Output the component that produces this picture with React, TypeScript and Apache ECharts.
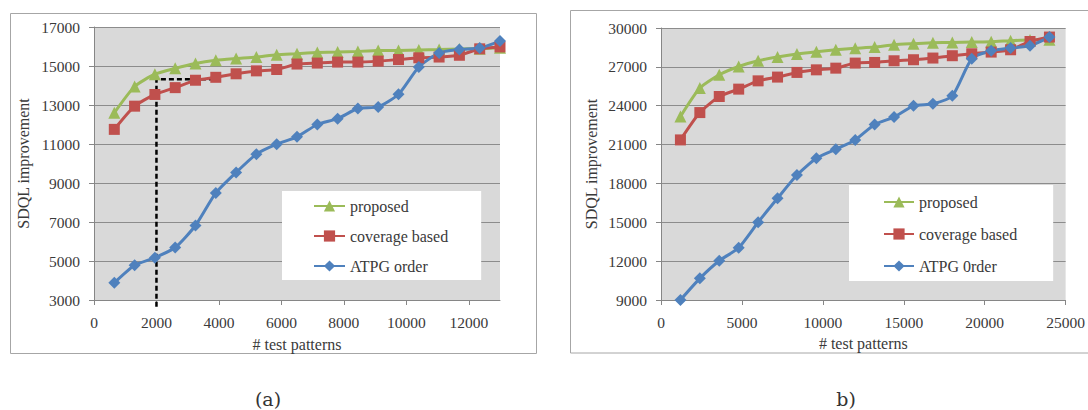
import React, { useEffect, useRef } from "react";
import * as echarts from "echarts";

// ---------- Chart (a) ----------
const xA = [650, 1300, 1950, 2600, 3250, 3900, 4550, 5200, 5850, 6500, 7150, 7800, 8450, 9100, 9750, 10400, 11050, 11700, 12350, 13000];
const proposedA = [12600, 13950, 14580, 14880, 15130, 15290, 15380, 15460, 15580, 15630, 15690, 15720, 15750, 15790, 15800, 15820, 15840, 15870, 15890, 15930];
const coverageA = [11750, 12940, 13540, 13890, 14270, 14420, 14600, 14750, 14820, 15100, 15150, 15200, 15200, 15250, 15330, 15420, 15460, 15550, 15880, 15980];
const atpgA = [3880, 4780, 5170, 5690, 6820, 8490, 9540, 10480, 10990, 11370, 12000, 12300, 12820, 12900, 13550, 14950, 15670, 15840, 15920, 16280];
const guideX = [2000, 2000, 3950];
const guideY = [2650, 14320, 14320];
const xTicksA = [0, 2000, 4000, 6000, 8000, 10000, 12000];
const yTicksA = [3000, 5000, 7000, 9000, 11000, 13000, 15000, 17000];
const legendA = ["proposed", "coverage based", "ATPG order"];

// ---------- Chart (b) ----------
const xB = [1200, 2400, 3600, 4800, 6000, 7200, 8400, 9600, 10800, 12000, 13200, 14400, 15600, 16800, 18000, 19200, 20400, 21600, 22800, 24000];
const proposedB = [23160, 25360, 26390, 27030, 27470, 27760, 27990, 28170, 28320, 28430, 28530, 28710, 28790, 28860, 28890, 28920, 28940, 29020, 29080, 29100];
const coverageB = [21360, 23470, 24710, 25280, 25920, 26210, 26570, 26770, 26900, 27290, 27340, 27470, 27550, 27680, 27860, 28010, 28140, 28320, 28960, 29300];
const atpgB = [9000, 10670, 12030, 13030, 15000, 16850, 18650, 19950, 20640, 21360, 22550, 23120, 23990, 24150, 24760, 27630, 28240, 28450, 28630, 29300];
const xTicksB = [0, 5000, 10000, 15000, 20000, 25000];
const yTicksB = [9000, 12000, 15000, 18000, 21000, 24000, 27000, 30000];
const legendB = ["proposed", "coverage based", "ATPG 0rder"];

const captions = ["(a)", "b)"];
const xTitle = "# test patterns";
const yTitle = "SDQL improvement";

const GREEN = "#9BBB59";
const RED = "#C0504D";
const BLUE = "#4F81BD";
const TEXT = "#3a3a3a";
const FONT = "Liberation Serif";

function zip(xs: number[], ys: number[]) {
  return xs.map((x, i) => [x, ys[i]]);
}

function mkSeries(name: string, xs: number[], ys: number[], color: string, symbol: string, size: number, idx: number) {
  return {
    type: "line",
    name,
    xAxisIndex: idx,
    yAxisIndex: idx,
    data: zip(xs, ys),
    symbol,
    symbolSize: size,
    smooth: 0.2,
    lineStyle: { color, width: 3 },
    itemStyle: { color },
    emphasis: { disabled: true },
  };
}

function mkXAxis(idx: number, min: number, max: number, interval: number, ticks: number[], nameGap: number) {
  return {
    type: "value",
    gridIndex: idx,
    min,
    max,
    interval,
    name: xTitle,
    nameLocation: "middle",
    nameGap,
    nameTextStyle: { color: TEXT, fontFamily: FONT, fontSize: 16 },
    axisLine: { show: true, onZero: false, lineStyle: { color: "#868686", width: 1 } },
    axisTick: { show: true, length: 5, inside: false, customValues: ticks, lineStyle: { color: "#868686" } },
    axisLabel: {
      customValues: ticks,
      showMaxLabel: true,
      showMinLabel: true,
      margin: 14,
      color: TEXT,
      fontFamily: FONT,
      fontSize: 15.5,
      formatter: (v: number) => String(v),
    },
    splitLine: { show: false },
  };
}

function mkYAxis(idx: number, min: number, max: number, interval: number, ticks: number[], nameGap: number) {
  return {
    type: "value",
    gridIndex: idx,
    min,
    max,
    interval,
    name: yTitle,
    nameLocation: "middle",
    nameGap,
    nameTextStyle: { color: TEXT, fontFamily: FONT, fontSize: 16 },
    axisLine: { show: true, lineStyle: { color: "#868686", width: 1 } },
    axisTick: { show: true, length: 5, inside: false, customValues: ticks, lineStyle: { color: "#868686" } },
    axisLabel: {
      customValues: ticks,
      margin: 14,
      color: TEXT,
      fontFamily: FONT,
      fontSize: 15.5,
      formatter: (v: number) => String(v),
    },
    splitLine: { show: true, lineStyle: { color: "#8c8c8c", width: 1 } },
  };
}

export default function App() {
  const ref = useRef<HTMLDivElement>(null);
  useEffect(() => {
    const chart = echarts.init(ref.current!, undefined, { renderer: "svg", width: 1088, height: 410 });
    const option: any = {
      animation: false,
      backgroundColor: "#ffffff",
      textStyle: { fontFamily: FONT },
      grid: [
        { left: 94, top: 27, width: 406, height: 273, show: true, backgroundColor: "#d9d9d9", borderWidth: 0 },
        { left: 661, top: 28, width: 409, height: 272, show: true, backgroundColor: "#d9d9d9", borderWidth: 0 },
      ],
      xAxis: [mkXAxis(0, 0, 13000, 2000, xTicksA, 36), mkXAxis(1, 0, 25000, 5000, xTicksB, 35)],
      yAxis: [mkYAxis(0, 3000, 17000, 1000, yTicksA, 63), mkYAxis(1, 9000, 30000, 3000, yTicksB, 62)],
      legend: [
        {
          data: legendA,
          orient: "vertical",
          left: 282,
          top: 191,
          padding: [7, 33, 6, 31],
          backgroundColor: "#ffffff",
          itemWidth: 31,
          itemHeight: 14,
          itemGap: 14,
          selectedMode: false,
          textStyle: { color: TEXT, fontFamily: FONT, fontSize: 16, lineHeight: 16 },
        },
        {
          data: legendB,
          orient: "vertical",
          left: 849,
          top: 185,
          padding: [9, 36, 7, 34],
          backgroundColor: "#ffffff",
          itemWidth: 30,
          itemHeight: 14,
          itemGap: 16,
          selectedMode: false,
          textStyle: { color: TEXT, fontFamily: FONT, fontSize: 16, lineHeight: 16 },
        },
      ],
      graphic: [
        { type: "rect", shape: { x: 10.5, y: 13.5, width: 526, height: 340 }, style: { fill: "none", stroke: "#a6a6a6", lineWidth: 1 }, silent: true },
        { type: "rect", shape: { x: 570.5, y: 10.5, width: 540, height: 342.5 }, style: { fill: "none", stroke: "#a6a6a6", lineWidth: 1 }, silent: true },
        { type: "text", x: 268, y: 399, style: { text: captions[0], fill: "#333", font: "19px DejaVu Serif", textAlign: "center", textVerticalAlign: "middle" }, silent: true },
        { type: "text", x: 846, y: 399, style: { text: captions[1], fill: "#333", font: "19px DejaVu Serif", textAlign: "center", textVerticalAlign: "middle" }, silent: true },
      ],
      series: [
        {
          type: "line",
          name: "guide",
          xAxisIndex: 0,
          yAxisIndex: 0,
          data: zip(guideX, guideY),
          symbol: "none",
          clip: false,
          z: 1,
          lineStyle: { color: "#000", width: 2.5, type: [5, 3] },
          emphasis: { disabled: true },
        },
        mkSeries(legendA[0], xA, proposedA, GREEN, "triangle", 12, 0),
        mkSeries(legendA[1], xA, coverageA, RED, "rect", 11, 0),
        mkSeries(legendA[2], xA, atpgA, BLUE, "diamond", 12, 0),
        mkSeries(legendB[0], xB, proposedB, GREEN, "triangle", 12, 1),
        mkSeries(legendB[1], xB, coverageB, RED, "rect", 11, 1),
        mkSeries(legendB[2], xB, atpgB, BLUE, "diamond", 12, 1),
      ],
    };
    chart.setOption(option);
    return () => chart.dispose();
  }, []);
  return <div ref={ref} style={{ position: "fixed", left: 0, top: 0, width: 1088, height: 410, background: "#fff" }} />;
}
